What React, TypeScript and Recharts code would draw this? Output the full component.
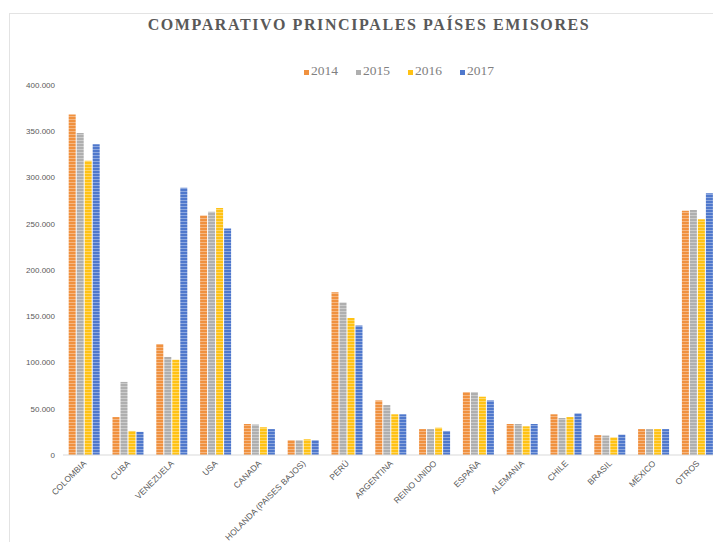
import { BarChart, Bar, XAxis, YAxis } from "recharts";

// Categories and yearly values
const countries = [
  "COLOMBIA",
  "CUBA",
  "VENEZUELA",
  "USA",
  "CANADA",
  "HOLANDA (PAISES BAJOS)",
  "PERÚ",
  "ARGENTINA",
  "REINO UNIDO",
  "ESPAÑA",
  "ALEMANIA",
  "CHILE",
  "BRASIL",
  "MÉXICO",
  "OTROS",
];
const y2014 = [368000, 41000, 120000, 259000, 33500, 16000, 176000, 59000, 28000, 68000, 33500, 44000, 21500, 28000, 264000];
const y2015 = [348000, 79000, 106000, 263000, 33000, 16000, 165000, 54000, 28000, 68000, 33500, 40000, 21000, 28000, 265000];
const y2016 = [318000, 26000, 103000, 267000, 30000, 17000, 148000, 44000, 29500, 63000, 31000, 41000, 19000, 28000, 255000];
const y2017 = [336000, 25000, 289000, 245000, 28000, 16000, 140000, 44000, 26000, 59000, 33500, 45000, 22000, 28000, 283000];
const years = ["2014", "2015", "2016", "2017"];
const yTicks = [0, 50000, 100000, 150000, 200000, 250000, 300000, 350000, 400000];

const COLORS = ["#F0913F", "#AFAFAF", "#FFC214", "#4F78CC"];

const data = countries.map((name, i) => ({
  name,
  "2014": y2014[i],
  "2015": y2015[i],
  "2016": y2016[i],
  "2017": y2017[i],
}));

const fmt = (v: number) => v.toString().replace(/\B(?=(\d{3})+(?!\d))/g, ".");

const XTick = ({ x, y, payload }: any) => (
  <g transform={`translate(${x + 2},${y + 1})`}>
    <text
      x={0}
      y={0}
      textAnchor="end"
      transform="rotate(-45)"
      fontSize={8.5}
      fontFamily="'Liberation Sans', sans-serif"
      fill="#595959"
    >
      {payload.value}
    </text>
  </g>
);

export default function App() {
  return (
    <div style={{ position: "relative", width: 721, height: 550, margin: -8, background: "#fff", overflow: "hidden" }}>
      <div
        style={{
          position: "absolute",
          left: 9,
          top: 13,
          right: 0,
          bottom: 0,
          borderTop: "1px solid #E3E3E3",
          borderLeft: "1px solid #E3E3E3",
        }}
      />
      <svg width={721} height={90} style={{ position: "absolute", left: 0, top: 0 }}>
        <text
          x={369}
          y={30}
          textAnchor="middle"
          fontSize={16}
          fontWeight="bold"
          letterSpacing={1.6}
          fontFamily="'Liberation Serif', serif"
          fill="#595959"
        >
          COMPARATIVO PRINCIPALES PAÍSES EMISORES
        </text>
        {years.map((yr, i) => (
          <g key={yr}>
            <rect x={304 + i * 52} y={70} width={5} height={5} fill={COLORS[i]} />
            <text
              x={311 + i * 52}
              y={75}
              fontSize={13.5}
              fontFamily="'Liberation Serif', serif"
              fill="#808080"
            >
              {yr}
            </text>
          </g>
        ))}
      </svg>
      <BarChart
        width={721}
        height={550}
        data={data}
        margin={{ top: 85, right: 1, left: 0, bottom: 5 }}
        barCategoryGap="13%"
        barGap={1}
      >
        <defs>
          {COLORS.map((c, i) => (
            <pattern key={i} id={`stripe${i}`} width={4} height={3} patternUnits="userSpaceOnUse">
              <rect width={4} height={3} fill={c} />
              <rect y={2} width={4} height={1} fill="#ffffff" opacity={0.35} />
            </pattern>
          ))}
        </defs>
        <XAxis
          dataKey="name"
          interval={0}
          height={90}
          tickLine={false}
          axisLine={{ stroke: "#D9D9D9" }}
          tick={<XTick />}
        />
        <YAxis
          width={63}
          domain={[0, 400000]}
          ticks={yTicks}
          tickFormatter={fmt}
          axisLine={false}
          tickLine={false}
          tick={{ fontSize: 8, fill: "#595959", fontFamily: "'Liberation Sans', sans-serif" }}
        />
        {years.map((yr, i) => (
          <Bar key={yr} dataKey={yr} fill={`url(#stripe${i})`} isAnimationActive={false} />
        ))}
      </BarChart>
    </div>
  );
}
